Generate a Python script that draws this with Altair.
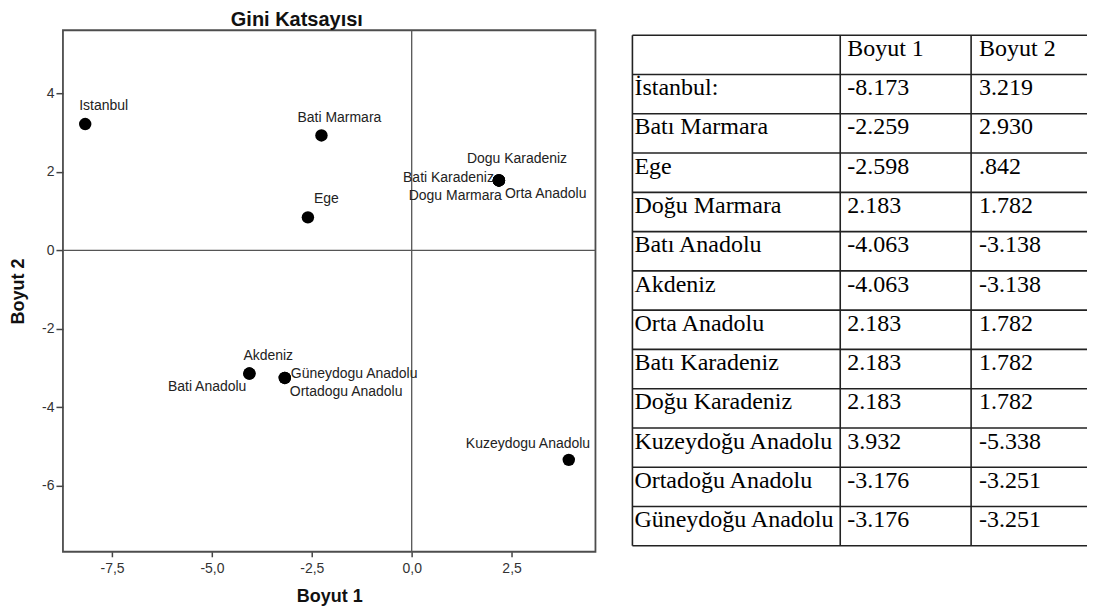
import altair as alt
import pandas as pd

# ---- data ----
regions = ["İstanbul:", "Batı Marmara", "Ege", "Doğu Marmara", "Batı Anadolu", "Akdeniz",
           "Orta Anadolu", "Batı Karadeniz", "Doğu Karadeniz", "Kuzeydoğu Anadolu",
           "Ortadoğu Anadolu", "Güneydoğu Anadolu"]
plot_labels = ["Istanbul", "Bati Marmara", "Ege", "Dogu Marmara", "Bati Anadolu", "Akdeniz",
               "Orta Anadolu", "Bati Karadeniz", "Dogu Karadeniz", "Kuzeydogu Anadolu",
               "Ortadogu Anadolu", "Güneydogu Anadolu"]
boyut1 = [-8.173, -2.259, -2.598, 2.183, -4.063, -4.063, 2.183, 2.183, 2.183, 3.932, -3.176, -3.176]
boyut2 = [3.219, 2.930, 0.842, 1.782, -3.138, -3.138, 1.782, 1.782, 1.782, -5.338, -3.251, -3.251]
col_headers = ["", "Boyut 1", "Boyut 2"]
x_ticks = [-7.5, -5.0, -2.5, 0.0, 2.5]
y_ticks = [-6, -4, -2, 0, 2, 4]

# ---- styles (label placement: align, dx, dy) ----
placement = {
    "Istanbul": ("left", -6, -18),
    "Bati Marmara": ("left", -24, -17),
    "Ege": ("left", 6, -18),
    "Dogu Karadeniz": ("left", -32, -21),
    "Bati Karadeniz": ("right", -5, -2),
    "Dogu Marmara": ("right", 3, 16),
    "Orta Anadolu": ("left", 6, 14),
    "Akdeniz": ("left", -6, -18),
    "Bati Anadolu": ("right", -3, 13),
    "Güneydogu Anadolu": ("left", 6, -4),
    "Ortadogu Anadolu": ("left", 5, 14),
    "Kuzeydogu Anadolu": ("left", -103, -16),
}

SANS = "Liberation Sans"
SERIF = "Liberation Serif"

df = pd.DataFrame({"b1": boyut1, "b2": boyut2, "label": plot_labels})
zero = pd.DataFrame({"v": [0]})

xs = alt.Scale(domain=[-8.73, 4.6], nice=False, zero=False)
ys = alt.Scale(domain=[-7.68, 5.61], nice=False, zero=False)

x_axis = alt.Axis(values=x_ticks, title="Boyut 1",
                  labelExpr="replace(replace(format(datum.value, '.1f'), '.', ','), '\u2212', '-')",
                  grid=False, domain=False, tickSize=5, tickColor="#444", tickWidth=1.5,
                  labelColor="#333", labelFont=SANS, labelFontSize=14, labelPadding=5,
                  titleFont=SANS, titleFontSize=18, titleFontWeight="bold", titleColor="#111",
                  titlePadding=12)
y_axis = alt.Axis(values=y_ticks, title="Boyut 2",
                  labelExpr="replace(format(datum.value, 'd'), '\u2212', '-')",
                  grid=False, domain=False, tickSize=7, tickColor="#444", tickWidth=1.5,
                  labelColor="#333", labelFont=SANS, labelFontSize=14, labelPadding=2,
                  titleFont=SANS, titleFontSize=18, titleFontWeight="bold", titleColor="#111",
                  titlePadding=14)

base = alt.Chart(df)
points = base.mark_circle(size=155, color="black", opacity=1).encode(
    x=alt.X("b1:Q", scale=xs, axis=x_axis),
    y=alt.Y("b2:Q", scale=ys, axis=y_axis),
)
vzero = alt.Chart(zero).mark_rule(color="#555", strokeWidth=1.3).encode(x=alt.X("v:Q", scale=xs))
hzero = alt.Chart(zero).mark_rule(color="#555", strokeWidth=1.3).encode(y=alt.Y("v:Q", scale=ys))

label_layers = []
for name, (al, dx, dy) in placement.items():
    label_layers.append(
        base.transform_filter(alt.datum.label == name).mark_text(
            align=al, baseline="middle", dx=dx, dy=dy, font=SANS, fontSize=14,
            color="#222", clip=True
        ).encode(x=alt.X("b1:Q", scale=xs), y=alt.Y("b2:Q", scale=ys), text="label:N")
    )

scatter = alt.layer(vzero, hzero, points, *label_layers).properties(
    width=533, height=522,
    title=alt.TitleParams("Gini Katsayısı", font=SANS, fontSize=20, fontWeight="bold",
                          color="#111", offset=0, frame="bounds", dx=-6),
    view=alt.ViewBackground(stroke="#4d4d4d", strokeWidth=1.8),
)

# ---- table ----
col_edges = [0, 208, 339, 455]
text_pad = [2, 7, 8]
n_rows = len(regions) + 1


def fmt(v):
    s = f"{v:.3f}"
    if s.startswith("0."):
        s = s[1:]
    elif s.startswith("-0."):
        s = "-" + s[2:]
    return s


cells = []
for c, h in enumerate(col_headers):
    cells.append({"row": 0, "col": c, "txt": h})
for r, (name, a, b) in enumerate(zip(regions, boyut1, boyut2), start=1):
    cells.append({"row": r, "col": 0, "txt": name})
    cells.append({"row": r, "col": 1, "txt": fmt(a)})
    cells.append({"row": r, "col": 2, "txt": fmt(b)})
cells = pd.DataFrame(cells)
cells["tx"] = [col_edges[c] + text_pad[c] for c in cells["col"]]
cells["ty"] = cells["row"] + 0.5

hlines = pd.DataFrame({"y": list(range(n_rows + 1)), "x": 0, "x2": col_edges[-1]})
vlines = pd.DataFrame({"x": col_edges[:-1], "y": 0, "y2": n_rows})

txs = alt.Scale(domain=[0, col_edges[-1]], nice=False, zero=False)
tys = alt.Scale(domain=[-0.127, n_rows], nice=False, zero=False, reverse=True)

hr = alt.Chart(hlines).mark_rule(color="#222", strokeWidth=1.6).encode(
    x=alt.X("x:Q", scale=txs, axis=None), x2="x2", y=alt.Y("y:Q", scale=tys, axis=None))
vr = alt.Chart(vlines).mark_rule(color="#222", strokeWidth=1.6).encode(
    x=alt.X("x:Q", scale=txs, axis=None), y=alt.Y("y:Q", scale=tys, axis=None), y2="y2")
tt = alt.Chart(cells).mark_text(align="left", baseline="alphabetic", dy=1, font=SERIF,
                                fontSize=24, color="#000").encode(
    x=alt.X("tx:Q", scale=txs, axis=None), y=alt.Y("ty:Q", scale=tys, axis=None), text="txt:N")

table = alt.layer(hr, vr, tt).properties(width=455, height=516)

chart = alt.hconcat(scatter, table, spacing=33, padding=0).configure_view(
    stroke="transparent").configure_concat(spacing=33)

chart.save("out.html", embed_options={"renderer": "svg", "actions": False})
